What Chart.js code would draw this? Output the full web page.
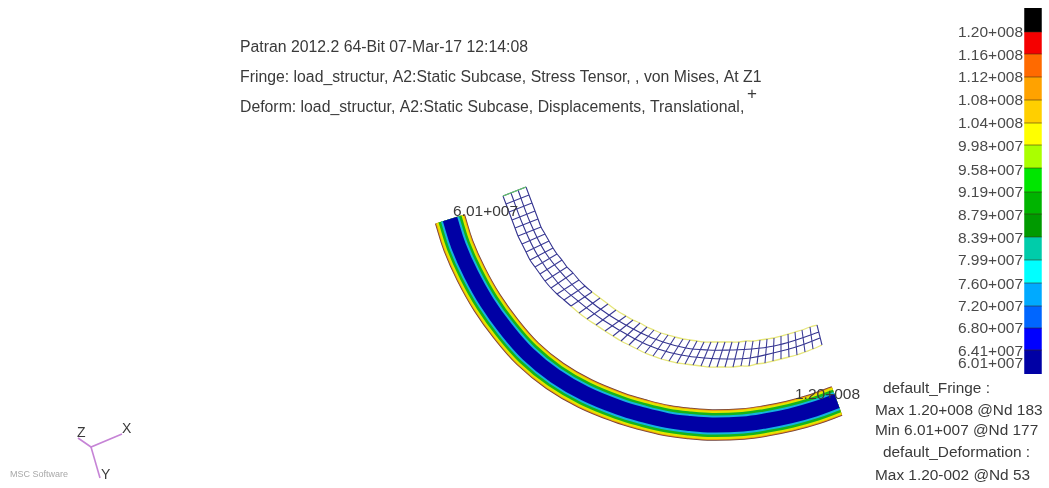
<!DOCTYPE html>
<html>
<head>
<meta charset="utf-8">
<title>Patran fringe plot</title>
<script src="https://cdn.jsdelivr.net/npm/chart.js@4"></script>
<style>
  html, body { margin: 0; padding: 0; background: #fff; }
  canvas { display: block; }
</style>
</head>
<body>
<canvas id="fringeChart" width="1049" height="488"></canvas>
<script>
// Fringe legend
const levelLabels = ['1.20+008', '1.16+008', '1.12+008', '1.08+008', '1.04+008', '9.98+007', '9.58+007', '9.19+007',
    '8.79+007', '8.39+007', '7.99+007', '7.60+007', '7.20+007', '6.80+007', '6.41+007', '6.01+007'];
const levelLabelY = [33, 56, 78, 101, 124, 147, 171, 193, 216, 239, 261, 285, 307, 329, 352, 364];
const levelEdges = [8, 32, 54, 77, 100, 123, 145, 168, 192, 214, 237, 260, 283, 306, 328, 350, 374];
const levelColors = ['#000000', '#f50000', '#ff6a00', '#ffa200', '#ffcf00', '#ffff00', '#aaff00', '#00e600',
    '#00b400', '#009a00', '#00ccaa', '#00ffff', '#00aaff', '#0066ff', '#0000ff', '#0000a5'];

// Deformed ribbon centre line
const ribbonX = [450, 458.5, 471, 487, 506, 528, 555, 585, 619, 642, 667, 690, 712, 743, 765, 790, 815, 837];
const ribbonY = [219, 246, 274, 302.5, 329, 354, 376, 393.5, 407.5, 414.5, 420.5, 423.5, 425, 424, 421, 416, 409, 401];
const ribbonWidths = [31.5, 30, 28.5, 24, 19, 15];
const ribbonColors = ['#6e4038', '#ee8a10', '#e4e400', '#14b41c', '#14b4de', '#0000a5'];

// Undeformed mesh, cross lines run from the lower edge to the upper edge
const meshLowX = [503, 506, 509, 512, 515, 518, 522, 526, 530, 535, 540, 545, 551, 557, 564, 571, 579, 587, 596,
    605, 613, 621, 629, 637, 645, 653, 661, 669, 677, 685, 693, 701, 709, 717, 725, 733, 741, 749, 757, 765, 773, 781, 789, 797, 805, 813, 822];
const meshLowY = [196, 204, 212, 220, 228, 236, 244, 252, 260, 267, 274, 281, 288, 294, 300, 306, 313, 319, 325,
    331, 336, 341, 345, 349, 353, 356, 359, 361, 363, 364, 365, 366, 367, 367, 367, 367, 366, 366, 364, 363, 361, 359, 357, 355, 352, 349, 345];
const meshHighX = [526, 529, 532, 535, 538, 541, 545, 549, 553, 557, 562, 567, 573, 579, 585, 592, 600, 608, 616,
    626, 633, 640, 647, 654, 661, 668, 675, 683, 690, 697, 704, 711, 718, 725, 732, 739, 746, 753, 760, 767, 774, 781, 788, 795, 802, 810, 817];
const meshHighY = [187, 195, 203, 211, 219, 227, 234, 241, 248, 254, 260, 267, 273, 280, 286, 292, 298, 304, 310,
    316, 320, 323, 327, 330, 333, 335, 337, 339, 340, 341, 342, 342, 342, 342, 342, 342, 341, 341, 340, 339, 338, 336, 334, 332, 330, 327, 325];
const meshInnerAX = [511, 523, 538, 558, 578, 603, 635, 658, 681, 704, 727, 750, 773, 796, 820];
const meshInnerAY = [193, 225, 256, 283, 301, 320, 339, 349, 355, 358, 359, 358, 353, 347, 338];
const meshInnerBX = [518, 530, 545, 566, 585, 609, 641, 663, 686, 708, 730, 752, 774, 796, 819];
const meshInnerBY = [190, 222, 252, 278, 297, 315, 333, 342, 348, 350, 350, 349, 346, 340, 332];
const meshNavyEnd = 16; // rim is navy up to this cross line, pale yellow after it

// Axis triad
const triadX = [78, 91, 122];
const triadY = [438, 447, 434];
const triadStemX = [91, 100];
const triadStemY = [447, 478];

const textColor = '#3a3a3a';
const texts = [
    ['Patran 2012.2 64-Bit 07-Mar-17 12:14:08', 240, 48, 15.8],
    ['Fringe: load_structur, A2:Static Subcase, Stress Tensor, , von Mises, At Z1', 240, 78, 15.8],
    ['Deform: load_structur, A2:Static Subcase, Displacements, Translational,', 240, 108, 15.8],
    ['+', 747, 94, 17],
    ['6.01+007', 453, 212, 15.5],
    ['1.20+008', 795, 395, 15.5],
    ['default_Fringe :', 883, 389, 15.4],
    ['Max 1.20+008 @Nd 183', 875, 411, 15.4],
    ['Min 6.01+007 @Nd 177', 875, 431, 15.4],
    ['default_Deformation :', 883, 453, 15.4],
    ['Max 1.20-002 @Nd 53', 875, 476, 15.4],
    ['Z', 77, 433, 14],
    ['X', 122, 429, 14],
    ['Y', 101, 475, 14]
];

function toPoints(xs, ys) {
    return xs.map((x, i) => ({ x: x, y: ys[i] }));
}

function lineSet(points, color, width, tension) {
    return {
        data: points,
        showLine: true,
        pointRadius: 0,
        borderColor: color,
        borderWidth: width,
        tension: tension || 0,
        borderCapStyle: 'butt',
        borderJoinStyle: tension ? 'round' : 'miter',
        spanGaps: false,
        clip: false
    };
}

// datasets in painting order, reversed at the end because Chart.js paints the first one last
const sets = [];

// ribbon bands, widest underneath
ribbonWidths.forEach((w, i) => {
    sets.push(lineSet(toPoints(ribbonX, ribbonY), ribbonColors[i], w, 0.4));
});

// mesh rims
const lowPoints = toPoints(meshLowX, meshLowY);
const highPoints = toPoints(meshHighX, meshHighY);
sets.push(lineSet(lowPoints.slice(meshNavyEnd - 1), '#e6e67a', 1.3, 0.3));
sets.push(lineSet(highPoints.slice(meshNavyEnd - 1), '#e6e67a', 1.3, 0.3));
sets.push(lineSet(lowPoints.slice(0, meshNavyEnd), '#34348f', 1.1, 0.3));
sets.push(lineSet(highPoints.slice(0, meshNavyEnd), '#34348f', 1.1, 0.3));

// mesh inner lines and cross lines
const crossPoints = [];
meshLowX.forEach((x, i) => {
    crossPoints.push({ x: x, y: meshLowY[i] }, { x: meshHighX[i], y: meshHighY[i] }, { x: null, y: null });
});
sets.push(lineSet(toPoints(meshInnerAX, meshInnerAY), '#34348f', 1.1, 0.4));
sets.push(lineSet(toPoints(meshInnerBX, meshInnerBY), '#34348f', 1.1, 0.4));
sets.push(lineSet(crossPoints, '#3c3c96', 1.1));
sets.push(lineSet([lowPoints[0], highPoints[0]], '#66cc66', 1.3));

// legend colour bar
levelColors.forEach((c, i) => {
    sets.push(lineSet([{ x: 1033, y: levelEdges[i] }, { x: 1033, y: levelEdges[i + 1] }], c, 17.5));
});
const edgeLines = [];
levelEdges.slice(1, -1).forEach(y => {
    edgeLines.push({ x: 1024.2, y: y }, { x: 1041.8, y: y }, { x: null, y: null });
});
sets.push(lineSet(edgeLines, 'rgba(60,40,20,0.55)', 1));

// triad
sets.push(lineSet(toPoints(triadX, triadY), '#c684d6', 1.6));
sets.push(lineSet(toPoints(triadStemX, triadStemY), '#c684d6', 1.6));

const textPlugin = {
    id: 'patranText',
    afterDatasetsDraw(chart) {
        const ctx = chart.ctx;
        const xs = chart.scales.x;
        const ys = chart.scales.y;
        ctx.save();
        ctx.textBaseline = 'middle';
        ctx.fillStyle = textColor;
        texts.forEach(t => {
            ctx.textAlign = 'left';
            ctx.font = t[3] + 'px "Liberation Sans"';
            ctx.fillText(t[0], xs.getPixelForValue(t[1]), ys.getPixelForValue(t[2]));
        });
        // legend tick labels
        ctx.textAlign = 'right';
        ctx.font = '15.5px "Liberation Sans"';
        ctx.fillStyle = '#4a4a4a';
        levelLabels.forEach((label, i) => {
            ctx.fillText(label, xs.getPixelForValue(1023), ys.getPixelForValue(levelLabelY[i]));
        });
        // logo
        ctx.textAlign = 'left';
        ctx.font = '9px "Liberation Sans"';
        ctx.fillStyle = '#a8a8a8';
        ctx.fillText('MSC Software', xs.getPixelForValue(10), ys.getPixelForValue(475));
        ctx.restore();
    }
};

window.onload = function() {
    const ctx = document.getElementById('fringeChart').getContext('2d');
    new Chart(ctx, {
        type: 'scatter',
        data: { datasets: sets.reverse() },
        options: {
            responsive: false,
            animation: false,
            devicePixelRatio: 1,
            layout: { padding: 0 },
            plugins: { legend: { display: false }, tooltip: { enabled: false } },
            scales: {
                x: { type: 'linear', min: 0, max: 1049, display: false },
                y: { type: 'linear', min: 0, max: 488, reverse: true, display: false }
            }
        },
        plugins: [textPlugin]
    });
};
</script>
</body>
</html>
